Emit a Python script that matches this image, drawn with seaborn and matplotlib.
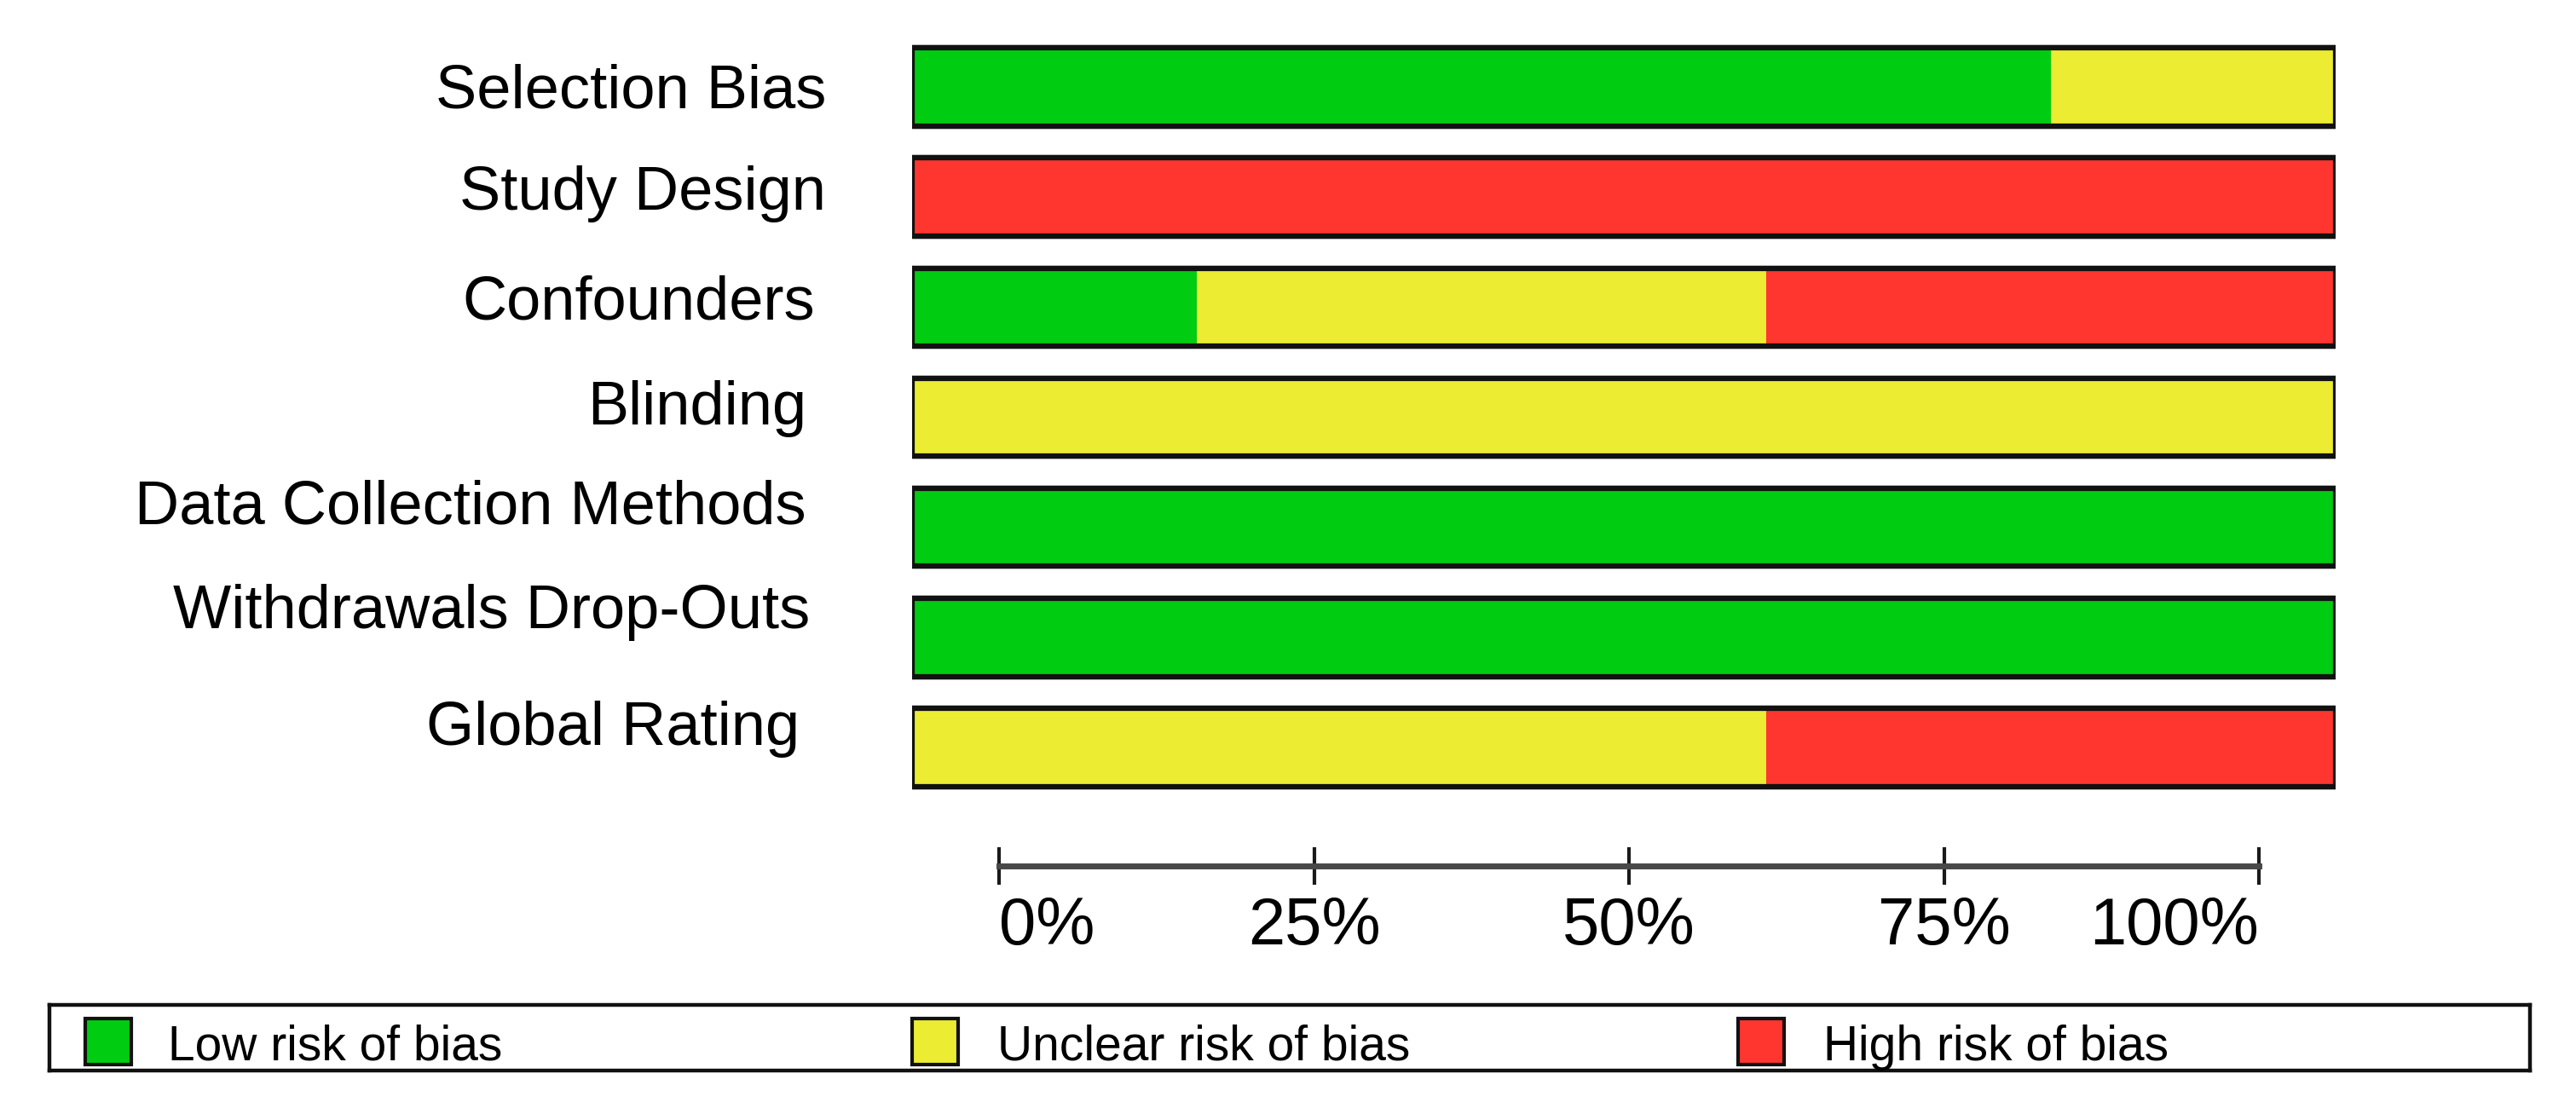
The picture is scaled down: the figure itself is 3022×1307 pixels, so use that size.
import matplotlib
matplotlib.use("Agg")
import matplotlib.pyplot as plt
import matplotlib.transforms as mtransforms
from matplotlib.patches import Rectangle
import seaborn as sns
import pandas as pd
import numpy as np

# ---------------- data ----------------
domains = ["Selection Bias", "Study Design", "Confounders", "Blinding",
           "Data Collection Methods", "Withdrawals Drop-Outs", "Global Rating"]
low_risk = [80, 0, 20, 0, 100, 100, 0]
unclear_risk = [20, 0, 40, 100, 0, 0, 60]
high_risk = [0, 100, 40, 0, 0, 0, 40]
risk_names = ["Low risk of bias", "Unclear risk of bias", "High risk of bias"]
risk_colors = ["#00cc12", "#ecec33", "#ff3530"]
tick_values = [0, 25, 50, 75, 100]
tick_labels = ["0%", "25%", "50%", "75%", "100%"]

# ---------------- style ----------------
sns.set_theme(style="white")
plt.rcParams["font.family"] = ["Liberation Sans", "DejaVu Sans"]
plt.rcParams["text.color"] = "black"
plt.rcParams["xtick.color"] = "black"
plt.rcParams["xtick.labelcolor"] = "black"

W, H = 3022, 1307
fig = plt.figure(figsize=(W / 100, H / 100), dpi=100)
fig.patch.set_facecolor("white")

def fx(px):
    return px / W

def fy(py):
    return 1 - py / H

# main bar axes
ax_left, ax_right = 1070, 2740
row_top, row_bottom = 37.5, 941.5
ax = fig.add_axes([fx(ax_left), fy(row_bottom), fx(ax_right - ax_left),
                   (row_bottom - row_top) / H])

df = pd.DataFrame({"domain": domains, "low": low_risk,
                   "unclear": unclear_risk, "high": high_risk})
df["c1"] = df["low"]
df["c2"] = df["low"] + df["unclear"]
df["c3"] = df["low"] + df["unclear"] + df["high"]

bar_w = 0.71
# soft grey shadow under each bar
n0 = len(ax.patches)
sns.barplot(data=df, x="c3", y="domain", orient="h", color="#9a9a9a",
            saturation=1, width=bar_w + 0.06, linewidth=0, ax=ax, order=domains)
for p in ax.patches[n0:]:
    p.set_alpha(0.45)
    p.set_zorder(0.5)

for col, colr in zip(["c3", "c2", "c1"], risk_colors[::-1]):
    sns.barplot(data=df, x=col, y="domain", orient="h", color=colr,
                saturation=1, width=bar_w, linewidth=0, ax=ax, order=domains)

n_before = len(ax.patches)
sns.barplot(data=df, x="c3", y="domain", orient="h", color="black",
            saturation=1, width=bar_w, ax=ax, order=domains)
for p in ax.patches[n_before:]:
    p.set_facecolor("none")
    p.set_edgecolor("#111111")
    p.set_linewidth(4.5)
    p.set_zorder(5)

ax.set_xlim(0, 100)
ax.set_ylim(len(domains) - 0.5, -0.5)
for s in ax.spines.values():
    s.set_visible(False)
ax.set_xticks([])
ax.set_yticks([])
ax.set_xlabel("")
ax.set_ylabel("")
ax.patch.set_alpha(0)

# row labels (right-aligned, with small per-label offsets as in the original)
label_right_px = [969, 969, 956, 946, 946, 950, 938]
label_dy_px = [-6, 4, 4, 10, 23, 29, 21]
for i, name in enumerate(domains):
    off = mtransforms.offset_copy(ax.transData, fig=fig, x=0,
                                  y=label_dy_px[i], units="dots")
    trans = mtransforms.blended_transform_factory(fig.transFigure, off)
    ax.text(fx(label_right_px[i]), i, name, transform=trans, ha="right",
            va="center", fontsize=52, color="black", clip_on=False)

# percentage scale
sc_left, sc_right, sc_y = 1172, 2650, 1016
ax2 = fig.add_axes([fx(sc_left), fy(sc_y), fx(sc_right - sc_left), 0.001])
ax2.set_xlim(0, 100)
ax2.set_ylim(0, 1)
for k, s in ax2.spines.items():
    s.set_visible(k == "bottom")
ax2.spines["bottom"].set_linewidth(5)
ax2.spines["bottom"].set_color("#484848")
ax2.set_yticks([])
ax2.set_xticks(tick_values)
ax2.set_xticklabels(tick_labels)
ax2.tick_params(axis="x", bottom=True, direction="inout", length=32, width=3,
                color="#1a1a1a", labelcolor="black", labelsize=56, pad=9)
aligns = ["left", "center", "center", "center", "right"]
for lab, a in zip(ax2.get_xticklabels(), aligns):
    lab.set_horizontalalignment(a)
ax2.patch.set_alpha(0)

# legend box
lg_l, lg_r, lg_t, lg_b = 58, 2968, 1179, 1256
ax3 = fig.add_axes([fx(lg_l), fy(lg_b), fx(lg_r - lg_l), (lg_b - lg_t) / H])
ax3.set_xlim(0, 1)
ax3.set_ylim(0, 1)
ax3.set_xticks([])
ax3.set_yticks([])
for s in ax3.spines.values():
    s.set_visible(True)
    s.set_linewidth(3.2)
    s.set_color("#111111")
patch_x_px = [100, 1070, 2039]
text_x_px = [197, 1170, 2139]
for name, colr, pxp, pxt in zip(risk_names, risk_colors, patch_x_px, text_x_px):
    x0 = (pxp - lg_l) / (lg_r - lg_l)
    wdt = 54 / (lg_r - lg_l)
    ax3.add_patch(Rectangle((x0, 0.09), wdt, 0.70, facecolor=colr,
                            edgecolor="#111111", linewidth=3,
                            transform=ax3.transAxes))
    ax3.text((pxt - lg_l) / (lg_r - lg_l), 0.16, name, fontsize=41,
             ha="left", va="baseline", color="black", transform=ax3.transAxes)

fig.savefig("out.png", dpi=100, facecolor="white")
